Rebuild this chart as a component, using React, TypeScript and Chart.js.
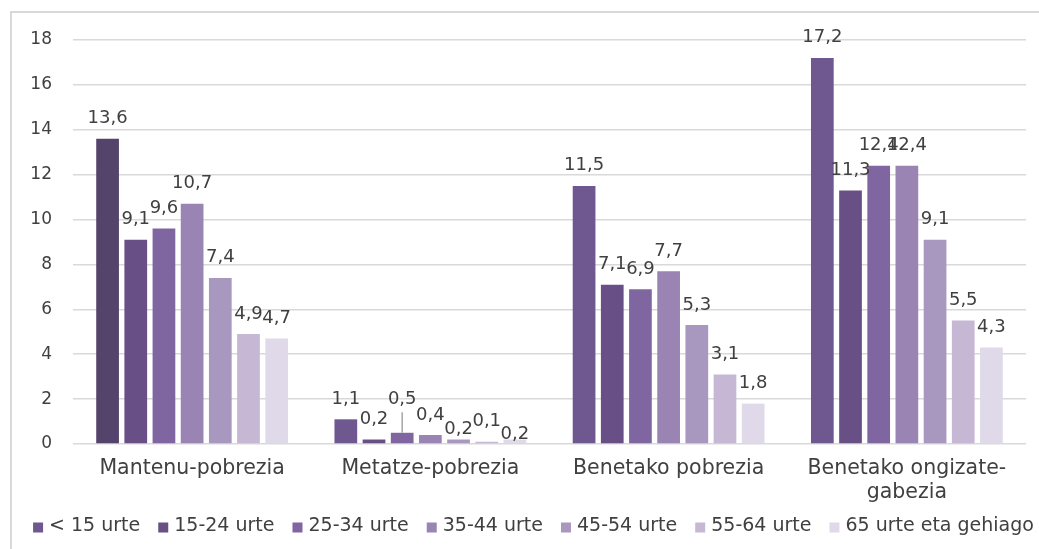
import React, { useEffect, useRef } from 'react';
import { Chart, registerables } from 'chart.js';

Chart.register(...registerables);

const categories: string[][] = [
  ['Mantenu-pobrezia'],
  ['Metatze-pobrezia'],
  ['Benetako pobrezia'],
  ['Benetako ongizate-', 'gabezia'],
];
const seriesNames = ['< 15 urte', '15-24 urte', '25-34 urte', '35-44 urte', '45-54 urte', '55-64 urte', '65 urte eta gehiago'];
const under15 = [13.6, 1.1, 11.5, 17.2];
const age15to24 = [9.1, 0.2, 7.1, 11.3];
const age25to34 = [9.6, 0.5, 6.9, 12.4];
const age35to44 = [10.7, 0.4, 7.7, 12.4];
const age45to54 = [7.4, 0.2, 5.3, 9.1];
const age55to64 = [4.9, 0.1, 3.1, 5.5];
const age65plus = [4.7, 0.2, 1.8, 4.3];
const yMin = 0;
const yMax = 18;
const yStep = 2;

const seriesValues = [under15, age15to24, age25to34, age35to44, age45to54, age55to64, age65plus];
const seriesColors = ['#6F578F', '#684F86', '#8066A0', '#9A84B4', '#A898C0', '#C6B8D5', '#E0D9EA'];
const firstBarDark = '#54436B';

// manual label nudges (style only), keyed "dataset-category"
const labelShift: Record<string, number> = { '2-1': -13, '4-1': 10, '6-1': 15 };

const FONT = '"DejaVu Sans", sans-serif';
const TEXT = '#404040';

const fmt = (v: number) => v.toFixed(1).replace('.', ',');

const labelPlugin = {
  id: 'valueLabels',
  afterDatasetsDraw(chart: any) {
    const ctx = chart.ctx;
    ctx.save();
    ctx.font = `18px ${FONT}`;
    ctx.fillStyle = TEXT;
    ctx.textAlign = 'center';
    ctx.textBaseline = 'alphabetic';
    chart.data.datasets.forEach((ds: any, di: number) => {
      const meta = chart.getDatasetMeta(di);
      meta.data.forEach((bar: any, i: number) => {
        const v = ds.data[i] as number;
        const shift = labelShift[`${di}-${i}`] || 0;
        const y = bar.y - 15.5 + shift;
        ctx.fillText(fmt(v), bar.x, y);
        if (shift < 0) {
          ctx.save();
          ctx.strokeStyle = '#A6A6A6';
          ctx.lineWidth = 1.5;
          ctx.beginPath();
          ctx.moveTo(bar.x, y + 8);
          ctx.lineTo(bar.x, bar.y);
          ctx.stroke();
          ctx.restore();
        }
      });
    });
    ctx.restore();
  },
};

// custom legend drawn at the bottom of the canvas
const legendPlugin = {
  id: 'customLegend',
  afterDraw(chart: any) {
    const ctx = chart.ctx;
    ctx.save();
    ctx.font = `19px ${FONT}`;
    ctx.textBaseline = 'middle';
    ctx.textAlign = 'left';
    const box = 10;
    const gap = 6;
    const itemGap = 18;
    const widths = seriesNames.map((n) => ctx.measureText(n).width);
    const total = widths.reduce((a, w) => a + box + gap + w, 0) + itemGap * (seriesNames.length - 1);
    const centerX = 521.5;
    const cy = 513.5;
    let x = centerX - total / 2;
    seriesNames.forEach((n, i) => {
      ctx.fillStyle = seriesColors[i];
      ctx.fillRect(x, cy - 4, box, box);
      x += box + gap;
      ctx.fillStyle = TEXT;
      ctx.fillText(n, x, cy);
      x += widths[i] + itemGap;
    });
    ctx.restore();
  },
};

export default function App() {
  const ref = useRef<HTMLCanvasElement | null>(null);

  useEffect(() => {
    if (!ref.current) return;
    Chart.defaults.font.family = FONT;
    const chart = new Chart(ref.current, {
      type: 'bar',
      data: {
        labels: categories,
        datasets: seriesNames.map((name, si) => ({
          label: name,
          data: seriesValues[si],
          backgroundColor: si === 0
            ? seriesValues[si].map((_, i) => (i === 0 ? firstBarDark : seriesColors[si]))
            : seriesColors[si],
          borderWidth: 0,
          categoryPercentage: 0.828,
          barPercentage: 0.806,
        })),
      },
      options: {
        animation: false,
        responsive: false,
        devicePixelRatio: 1,
        layout: { padding: { left: 8, right: 13, top: 27, bottom: 41 } },
        plugins: {
          legend: { display: false },
          tooltip: { enabled: false },
          title: { display: false },
        },
        scales: {
          x: {
            grid: { display: false },
            border: { display: false },
            ticks: {
              color: TEXT,
              padding: 4,
              font: { size: 20.5, family: FONT, lineHeight: 1.2 },
              maxRotation: 0,
              autoSkip: false,
            },
            afterFit: (s: any) => { s.height = 64; },
          },
          y: {
            min: yMin,
            max: yMax,
            border: { display: false },
            grid: {
              color: '#D9D9D9',
              lineWidth: 1.5,
              drawTicks: true,
              tickLength: 21,
              tickColor: 'rgba(0,0,0,0)',
            },
            ticks: {
              stepSize: yStep,
              color: TEXT,
              padding: 0,
              font: { size: 17, family: FONT },
            },
            afterFit: (s: any) => { s.width = 53; },
          },
        },
      } as any,
      plugins: [labelPlugin, legendPlugin],
    });
    return () => chart.destroy();
  }, []);

  return (
    <div style={{ position: 'fixed', left: 0, top: 0, width: 1039, height: 549, background: '#fff', overflow: 'hidden' }}>
      <div
        style={{
          position: 'absolute',
          left: 10,
          top: 11,
          width: 1100,
          height: 600,
          borderTop: '2px solid #D9D9D9',
          borderLeft: '2px solid #D9D9D9',
        }}
      />
      <canvas ref={ref} width={1027} height={536} style={{ position: 'absolute', left: 12, top: 13, width: 1027, height: 536 }} />
    </div>
  );
}
